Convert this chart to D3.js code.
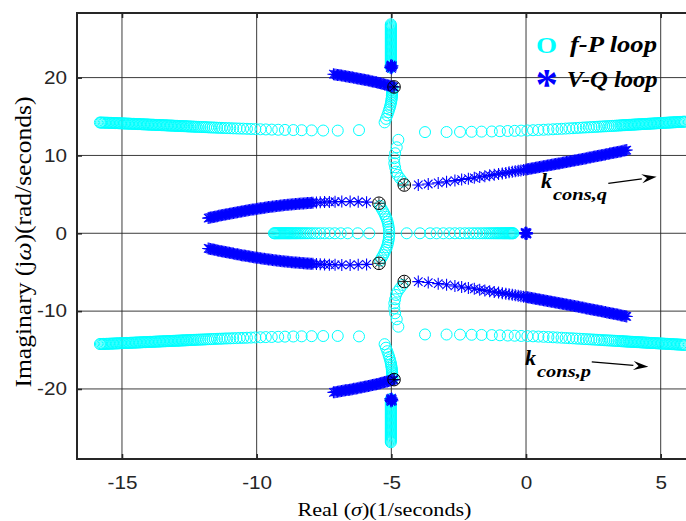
<!DOCTYPE html>
<html>
<head>
<meta charset="utf-8">
<script src="https://cdn.jsdelivr.net/npm/d3@7"></script>
<style>
  html, body { margin: 0; padding: 0; background: #fff; }
  svg { display: block; }
</style>
</head>
<body>
<svg id="chart" width="686" height="521"></svg>
<script>
// Closed-loop pole trajectories, each point is [real, imaginary].

// ---- f-P loop branches ----
const fpUpperLeft = [[-6.20,13.25],[-6.99,13.19],[-7.53,13.20],[-7.96,13.22],[-8.33,13.24],[-8.64,13.26],[-8.95,13.28],[-9.20,13.30],[-9.44,13.32],[-9.66,13.34],[-9.86,13.36],[-10.05,13.38],
[-10.21,13.40],[-10.36,13.42],[-10.50,13.44],[-10.63,13.45],[-10.75,13.47],[-10.87,13.48],[-10.98,13.50],[-11.09,13.51],[-11.19,13.52],[-11.29,13.54],[-11.38,13.55],[-11.47,13.56],[-11.56,13.58],[-11.64,13.59],[-11.72,13.60],[-11.80,13.61],[-11.88,13.63],[-11.95,13.64],[-12.02,13.65],[-12.09,13.66],[-12.16,13.67],[-12.23,13.68],[-12.29,13.69],[-12.35,13.70],[-12.41,13.71],[-12.47,13.72],[-12.53,13.73],
[-12.58,13.74],[-12.63,13.75],[-12.68,13.76],[-12.73,13.76],[-12.78,13.77],[-12.83,13.78],[-12.88,13.79],[-12.93,13.80],[-12.98,13.80],[-13.03,13.81],[-13.08,13.82],[-13.13,13.83],[-13.18,13.84],[-13.23,13.84],[-13.28,13.85],[-13.33,13.86],[-13.38,13.87],[-13.43,13.88],[-13.48,13.88],[-13.53,13.89],[-13.58,13.90],[-13.63,13.91],[-13.68,13.91],[-13.73,13.92],[-13.78,13.93],[-13.83,13.94],[-13.88,13.95],[-13.93,13.95],[-13.98,13.96],[-14.03,13.97],[-14.08,13.98],[-14.13,13.99],[-14.18,13.99],[-14.23,14.00],[-14.28,14.01],[-14.33,14.02],[-14.38,14.03],[-14.43,14.03],[-14.48,14.04],[-14.53,14.05],[-14.58,14.06],[-14.63,14.06],[-14.68,14.07],[-14.73,14.08],[-14.78,14.09],[-14.83,14.09],[-14.88,14.10],[-14.93,14.11],[-14.98,14.12],[-15.03,14.12],[-15.08,14.13],[-15.13,14.14],[-15.18,14.15],[-15.23,14.15],[-15.28,14.16],[-15.33,14.17],[-15.38,14.18],[-15.43,14.18],[-15.48,14.19],[-15.53,14.20],[-15.58,14.20],[-15.63,14.21],[-15.68,14.21],[-15.73,14.22],[-15.78,14.22],[-15.82,14.23]];
const fpLowerLeft = [[-6.20,-13.25],[-6.99,-13.19],[-7.53,-13.20],[-7.96,-13.22],[-8.33,-13.24],[-8.64,-13.26],[-8.95,-13.28],[-9.20,-13.30],[-9.44,-13.32],[-9.66,-13.34],[-9.86,-13.36],[-10.05,-13.38],
[-10.21,-13.40],[-10.36,-13.42],[-10.50,-13.44],[-10.63,-13.45],[-10.75,-13.47],[-10.87,-13.48],[-10.98,-13.50],[-11.09,-13.51],[-11.19,-13.52],[-11.29,-13.54],[-11.38,-13.55],[-11.47,-13.56],[-11.56,-13.58],[-11.64,-13.59],[-11.72,-13.60],[-11.80,-13.61],[-11.88,-13.63],[-11.95,-13.64],[-12.02,-13.65],[-12.09,-13.66],[-12.16,-13.67],[-12.23,-13.68],[-12.29,-13.69],[-12.35,-13.70],[-12.41,-13.71],[-12.47,-13.72],[-12.53,-13.73],
[-12.58,-13.74],[-12.63,-13.75],[-12.68,-13.76],[-12.73,-13.76],[-12.78,-13.77],[-12.83,-13.78],[-12.88,-13.79],[-12.93,-13.80],[-12.98,-13.80],[-13.03,-13.81],[-13.08,-13.82],[-13.13,-13.83],[-13.18,-13.84],[-13.23,-13.84],[-13.28,-13.85],[-13.33,-13.86],[-13.38,-13.87],[-13.43,-13.88],[-13.48,-13.88],[-13.53,-13.89],[-13.58,-13.90],[-13.63,-13.91],[-13.68,-13.91],[-13.73,-13.92],[-13.78,-13.93],[-13.83,-13.94],[-13.88,-13.95],[-13.93,-13.95],[-13.98,-13.96],[-14.03,-13.97],[-14.08,-13.98],[-14.13,-13.99],[-14.18,-13.99],[-14.23,-14.00],[-14.28,-14.01],[-14.33,-14.02],[-14.38,-14.03],[-14.43,-14.03],[-14.48,-14.04],[-14.53,-14.05],[-14.58,-14.06],[-14.63,-14.06],[-14.68,-14.07],[-14.73,-14.08],[-14.78,-14.09],[-14.83,-14.09],[-14.88,-14.10],[-14.93,-14.11],[-14.98,-14.12],[-15.03,-14.12],[-15.08,-14.13],[-15.13,-14.14],[-15.18,-14.15],[-15.23,-14.15],[-15.28,-14.16],[-15.33,-14.17],[-15.38,-14.18],[-15.43,-14.18],[-15.48,-14.19],[-15.53,-14.20],[-15.58,-14.20],[-15.63,-14.21],[-15.68,-14.21],[-15.73,-14.22],[-15.78,-14.22],[-15.82,-14.23]];
const fpUpperRight = [[-3.75,13.00],[-2.95,13.01],[-2.45,13.02],[-2.02,13.04],[-1.65,13.06],[-1.27,13.08],[-0.97,13.11],[-0.68,13.14],[-0.42,13.16],[-0.18,13.19],[0.05,13.21],[0.26,13.24],[0.46,13.27],[0.65,13.30],[0.83,13.33],[1.00,13.36],[1.16,13.39],[1.32,13.42],[1.47,13.45],[1.61,13.48],[1.74,13.50],[1.87,13.53],[1.99,13.55],[2.11,13.58],[2.22,13.60],[2.33,13.62],[2.43,13.64],[2.53,13.66],[2.63,13.68],[2.72,13.70],[2.81,13.72],[2.90,13.74],[2.98,13.75],[3.06,13.77],[3.14,13.78],[3.22,13.80],[3.29,13.81],[3.36,13.83],[3.43,13.84],[3.50,13.86],
[3.55,13.87],[3.60,13.88],[3.65,13.89],[3.70,13.90],[3.75,13.91],[3.80,13.92],[3.85,13.93],[3.90,13.94],[3.95,13.95],[4.00,13.96],[4.05,13.97],[4.10,13.98],[4.15,13.99],[4.20,14.00],[4.25,14.01],[4.30,14.02],[4.35,14.03],[4.40,14.04],[4.45,14.05],[4.50,14.06],[4.55,14.07],[4.60,14.08],[4.65,14.09],[4.70,14.10],[4.75,14.11],[4.80,14.12],[4.85,14.13],[4.90,14.14],[4.95,14.15],[5.00,14.16],[5.05,14.17],[5.10,14.18],[5.15,14.19],[5.20,14.20],[5.25,14.21],[5.30,14.22],[5.35,14.23],[5.40,14.24],[5.45,14.25],[5.50,14.26],[5.55,14.27],[5.60,14.28],[5.65,14.29],[5.70,14.30],[5.75,14.31],[5.80,14.32],[5.85,14.33],[5.90,14.34]];
const fpLowerRight = [[-3.75,-13.00],[-2.95,-13.01],[-2.45,-13.02],[-2.02,-13.04],[-1.65,-13.06],[-1.27,-13.08],[-0.97,-13.11],[-0.68,-13.14],[-0.42,-13.16],[-0.18,-13.19],[0.05,-13.21],[0.26,-13.24],[0.46,-13.27],[0.65,-13.30],[0.83,-13.33],[1.00,-13.36],[1.16,-13.39],[1.32,-13.42],[1.47,-13.45],[1.61,-13.48],[1.74,-13.50],[1.87,-13.53],[1.99,-13.55],[2.11,-13.58],[2.22,-13.60],[2.33,-13.62],[2.43,-13.64],[2.53,-13.66],[2.63,-13.68],[2.72,-13.70],[2.81,-13.72],[2.90,-13.74],[2.98,-13.75],[3.06,-13.77],[3.14,-13.78],[3.22,-13.80],[3.29,-13.81],[3.36,-13.83],[3.43,-13.84],[3.50,-13.86],
[3.55,-13.87],[3.60,-13.88],[3.65,-13.89],[3.70,-13.90],[3.75,-13.91],[3.80,-13.92],[3.85,-13.93],[3.90,-13.94],[3.95,-13.95],[4.00,-13.96],[4.05,-13.97],[4.10,-13.98],[4.15,-13.99],[4.20,-14.00],[4.25,-14.01],[4.30,-14.02],[4.35,-14.03],[4.40,-14.04],[4.45,-14.05],[4.50,-14.06],[4.55,-14.07],[4.60,-14.08],[4.65,-14.09],[4.70,-14.10],[4.75,-14.11],[4.80,-14.12],[4.85,-14.13],[4.90,-14.14],[4.95,-14.15],[5.00,-14.16],[5.05,-14.17],[5.10,-14.18],[5.15,-14.19],[5.20,-14.20],[5.25,-14.21],[5.30,-14.22],[5.35,-14.23],[5.40,-14.24],[5.45,-14.25],[5.50,-14.26],[5.55,-14.27],[5.60,-14.28],[5.65,-14.29],[5.70,-14.30],[5.75,-14.31],[5.80,-14.32],[5.85,-14.33],[5.90,-14.34]];
const fpUpperColumn = [[-5.02,21.30],[-5.02,21.45],[-5.02,21.60],[-5.02,21.75],[-5.02,21.90],[-5.02,22.05],[-5.02,22.20],[-5.02,22.35],[-5.02,22.50],[-5.02,22.65],[-5.02,22.80],[-5.02,22.95],[-5.02,23.10],[-5.02,23.25],[-5.02,23.40],[-5.02,23.55],[-5.02,23.70],[-5.02,23.85],[-5.02,24.00],[-5.02,24.15],[-5.02,24.30],[-5.02,24.45],[-5.02,24.60],[-5.02,24.75],[-5.02,24.90],[-5.02,25.05],[-5.02,25.20],[-5.02,25.35],[-5.02,25.50],[-5.02,25.65],[-5.02,25.80],[-5.02,25.95],[-5.02,26.10],[-5.02,26.25],[-5.02,26.40],[-5.02,26.55],[-5.02,26.70],[-5.02,26.85]];
const fpLowerColumn = [[-5.02,-21.30],[-5.02,-21.45],[-5.02,-21.60],[-5.02,-21.75],[-5.02,-21.90],[-5.02,-22.05],[-5.02,-22.20],[-5.02,-22.35],[-5.02,-22.50],[-5.02,-22.65],[-5.02,-22.80],[-5.02,-22.95],[-5.02,-23.10],[-5.02,-23.25],[-5.02,-23.40],[-5.02,-23.55],[-5.02,-23.70],[-5.02,-23.85],[-5.02,-24.00],[-5.02,-24.15],[-5.02,-24.30],[-5.02,-24.45],[-5.02,-24.60],[-5.02,-24.75],[-5.02,-24.90],[-5.02,-25.05],[-5.02,-25.20],[-5.02,-25.35],[-5.02,-25.50],[-5.02,-25.65],[-5.02,-25.80],[-5.02,-25.95],[-5.02,-26.10],[-5.02,-26.25],[-5.02,-26.40],[-5.02,-26.55],[-5.02,-26.70],[-5.02,-26.85]];
const fpUpperString = [[-4.96,18.70],[-4.96,18.50],[-4.96,18.30],[-4.97,18.10],[-4.97,17.90],[-4.98,17.70],[-4.98,17.50],[-4.99,17.28],[-5.00,17.05],[-5.01,16.80],[-5.03,16.52],[-5.05,16.22],[-5.08,15.90],[-5.11,15.55],[-5.15,15.15],[-5.20,14.70],[-5.25,14.25]];
const fpLowerString = [[-4.96,-18.70],[-4.96,-18.50],[-4.96,-18.30],[-4.97,-18.10],[-4.97,-17.90],[-4.98,-17.70],[-4.98,-17.50],[-4.99,-17.28],[-5.00,-17.05],[-5.01,-16.80],[-5.03,-16.52],[-5.05,-16.22],[-5.08,-15.90],[-5.11,-15.55],[-5.15,-15.15],[-5.20,-14.70],[-5.25,-14.25]];
const fpUpperHook = [[-4.58,6.64],[-4.68,7.07],[-4.77,7.50],[-4.83,7.92],[-4.86,8.48],[-4.89,9.00],[-4.89,9.64],[-4.86,10.28],[-4.80,11.05],[-4.74,12.00]];
const fpLowerHook = [[-4.58,-6.64],[-4.68,-7.07],[-4.77,-7.50],[-4.83,-7.92],[-4.86,-8.48],[-4.89,-9.00],[-4.89,-9.64],[-4.86,-10.28],[-4.80,-11.05],[-4.74,-12.00]];
const fpUpperArc = [[-5.42,3.50],[-5.36,3.15],[-5.30,2.80],[-5.25,2.45],[-5.21,2.12],[-5.17,1.80],[-5.14,1.48],[-5.12,1.16],[-5.10,0.84],[-5.09,0.52],[-5.08,0.22]];
const fpLowerArc = [[-5.42,-3.50],[-5.36,-3.15],[-5.30,-2.80],[-5.25,-2.45],[-5.21,-2.12],[-5.17,-1.80],[-5.14,-1.48],[-5.12,-1.16],[-5.10,-0.84],[-5.09,-0.52],[-5.08,-0.22]];
const fpRealLeft = [[-5.82,0],[-6.25,0],[-6.62,0],[-6.88,0],[-7.10,0],[-7.30,0],[-7.48,0],[-7.64,0],[-7.78,0],[-7.90,0],[-8.00,0],[-8.09,0],[-8.17,0],[-8.24,0],[-8.31,0],[-8.37,0],[-8.43,0],[-8.49,0],[-8.54,0],[-8.59,0],[-8.64,0],[-8.69,0],[-8.74,0],[-8.78,0],[-8.82,0],[-8.86,0],[-8.90,0],[-8.94,0],[-8.98,0],[-9.02,0],[-9.06,0],[-9.10,0],[-9.14,0],[-9.18,0],[-9.22,0],[-9.26,0],[-9.30,0],[-9.33,0],[-9.36,0]];
const fpRealRight = [[-4.43,0],[-3.94,0],[-3.56,0],[-3.32,0],[-3.07,0],[-2.84,0],[-2.64,0],[-2.45,0],[-2.27,0],[-2.11,0],[-1.97,0],[-1.84,0],[-1.72,0],[-1.61,0],[-1.51,0],[-1.42,0],[-1.34,0],[-1.27,0],[-1.20,0],[-1.14,0],[-1.08,0],[-1.03,0],[-0.98,0],[-0.93,0],[-0.88,0],[-0.84,0],[-0.80,0],[-0.76,0],[-0.72,0],[-0.68,0],[-0.64,0],[-0.61,0],[-0.58,0],[-0.55,0],[-0.52,0],[-0.49,0],[-0.47,0]];

// ---- V-Q loop branches ----
const vqUpperCluster = [[-5.00,21.40],[-5.04,21.28],[-4.96,21.52],[-5.01,21.62],[-4.99,21.18],[-5.03,21.48],[-4.97,21.34]];
const vqLowerCluster = [[-5.00,-21.40],[-5.04,-21.28],[-4.96,-21.52],[-5.01,-21.62],[-4.99,-21.18],[-5.03,-21.48],[-4.97,-21.34]];
const vqUpperTop = [[-4.90,18.80],[-4.95,18.85],[-5.00,18.89],[-5.05,18.94],[-5.10,18.98],[-5.15,19.03],[-5.20,19.07],[-5.25,19.12],[-5.30,19.17],[-5.35,19.21],[-5.40,19.26],[-5.45,19.30],[-5.50,19.35],[-5.55,19.39],[-5.60,19.43],[-5.65,19.46],[-5.70,19.50],[-5.75,19.54],[-5.80,19.58],[-5.85,19.62],[-5.90,19.65],[-5.95,19.69],[-6.00,19.73],[-6.05,19.76],[-6.10,19.80],[-6.15,19.83],[-6.20,19.86],[-6.25,19.90],[-6.30,19.93],[-6.35,19.96],[-6.40,19.99],[-6.45,20.03],[-6.50,20.06],[-6.55,20.09],[-6.60,20.12],[-6.65,20.15],[-6.70,20.18],[-6.75,20.21],[-6.80,20.24],[-6.85,20.26],[-6.90,20.29],[-6.95,20.32],[-7.00,20.35],[-7.05,20.38],[-7.10,20.41],[-7.15,20.44]];
const vqLowerTop = [[-4.90,-18.80],[-4.95,-18.85],[-5.00,-18.89],[-5.05,-18.94],[-5.10,-18.98],[-5.15,-19.03],[-5.20,-19.07],[-5.25,-19.12],[-5.30,-19.17],[-5.35,-19.21],[-5.40,-19.26],[-5.45,-19.30],[-5.50,-19.35],[-5.55,-19.39],[-5.60,-19.43],[-5.65,-19.46],[-5.70,-19.50],[-5.75,-19.54],[-5.80,-19.58],[-5.85,-19.62],[-5.90,-19.65],[-5.95,-19.69],[-6.00,-19.73],[-6.05,-19.76],[-6.10,-19.80],[-6.15,-19.83],[-6.20,-19.86],[-6.25,-19.90],[-6.30,-19.93],[-6.35,-19.96],[-6.40,-19.99],[-6.45,-20.03],[-6.50,-20.06],[-6.55,-20.09],[-6.60,-20.12],[-6.65,-20.15],[-6.70,-20.18],[-6.75,-20.21],[-6.80,-20.24],[-6.85,-20.26],[-6.90,-20.29],[-6.95,-20.32],[-7.00,-20.35],[-7.05,-20.38],[-7.10,-20.41],[-7.15,-20.44]];
const vqUpperLeft = [[-5.92,4.00],[-6.23,4.05],[-6.53,4.07],[-6.84,4.07],[-7.09,4.05],[-7.30,4.03],[-7.48,4.01],[-7.64,3.98],[-7.78,3.96],[-7.91,3.93],
[-7.96,3.92],[-8.01,3.90],[-8.06,3.89],[-8.11,3.88],[-8.16,3.87],[-8.21,3.85],[-8.26,3.84],[-8.31,3.83],[-8.36,3.81],[-8.41,3.80],[-8.46,3.79],[-8.51,3.77],[-8.56,3.75],[-8.61,3.74],[-8.66,3.72],[-8.71,3.71],[-8.76,3.69],[-8.81,3.67],[-8.86,3.66],[-8.91,3.64],[-8.96,3.62],[-9.01,3.60],[-9.06,3.58],[-9.11,3.56],[-9.16,3.54],[-9.21,3.52],[-9.26,3.50],[-9.31,3.47],[-9.36,3.45],[-9.41,3.43],[-9.46,3.41],[-9.51,3.38],[-9.56,3.36],[-9.61,3.33],[-9.66,3.31],[-9.71,3.28],[-9.76,3.26],[-9.81,3.23],[-9.86,3.21],[-9.91,3.18],[-9.96,3.16],[-10.01,3.13],[-10.06,3.10],[-10.11,3.07],[-10.16,3.05],[-10.21,3.02],[-10.26,2.99],[-10.31,2.96],[-10.36,2.93],[-10.41,2.90],[-10.46,2.87],[-10.51,2.84],[-10.56,2.81],[-10.61,2.78],[-10.66,2.74],[-10.71,2.71],[-10.76,2.68],[-10.81,2.65],[-10.86,2.61],[-10.91,2.58],[-10.96,2.55],[-11.01,2.51],[-11.06,2.48],[-11.11,2.45],[-11.16,2.41],[-11.21,2.38],[-11.26,2.34],[-11.31,2.31],[-11.36,2.27],[-11.41,2.24],[-11.46,2.20],[-11.51,2.16],[-11.56,2.13],[-11.61,2.09],[-11.66,2.05],[-11.71,2.02],[-11.76,1.98],[-11.80,1.95]];
const vqLowerLeft = [[-5.92,-4.00],[-6.23,-4.05],[-6.53,-4.07],[-6.84,-4.07],[-7.09,-4.05],[-7.30,-4.03],[-7.48,-4.01],[-7.64,-3.98],[-7.78,-3.96],[-7.91,-3.93],
[-7.96,-3.92],[-8.01,-3.90],[-8.06,-3.89],[-8.11,-3.88],[-8.16,-3.87],[-8.21,-3.85],[-8.26,-3.84],[-8.31,-3.83],[-8.36,-3.81],[-8.41,-3.80],[-8.46,-3.79],[-8.51,-3.77],[-8.56,-3.75],[-8.61,-3.74],[-8.66,-3.72],[-8.71,-3.71],[-8.76,-3.69],[-8.81,-3.67],[-8.86,-3.66],[-8.91,-3.64],[-8.96,-3.62],[-9.01,-3.60],[-9.06,-3.58],[-9.11,-3.56],[-9.16,-3.54],[-9.21,-3.52],[-9.26,-3.50],[-9.31,-3.47],[-9.36,-3.45],[-9.41,-3.43],[-9.46,-3.41],[-9.51,-3.38],[-9.56,-3.36],[-9.61,-3.33],[-9.66,-3.31],[-9.71,-3.28],[-9.76,-3.26],[-9.81,-3.23],[-9.86,-3.21],[-9.91,-3.18],[-9.96,-3.16],[-10.01,-3.13],[-10.06,-3.10],[-10.11,-3.07],[-10.16,-3.05],[-10.21,-3.02],[-10.26,-2.99],[-10.31,-2.96],[-10.36,-2.93],[-10.41,-2.90],[-10.46,-2.87],[-10.51,-2.84],[-10.56,-2.81],[-10.61,-2.78],[-10.66,-2.74],[-10.71,-2.71],[-10.76,-2.68],[-10.81,-2.65],[-10.86,-2.61],[-10.91,-2.58],[-10.96,-2.55],[-11.01,-2.51],[-11.06,-2.48],[-11.11,-2.45],[-11.16,-2.41],[-11.21,-2.38],[-11.26,-2.34],[-11.31,-2.31],[-11.36,-2.27],[-11.41,-2.24],[-11.46,-2.20],[-11.51,-2.16],[-11.56,-2.13],[-11.61,-2.09],[-11.66,-2.05],[-11.71,-2.02],[-11.76,-1.98],[-11.80,-1.95]];
const vqUpperRight = [[-4.00,6.21],[-3.63,6.33],[-3.26,6.47],[-2.95,6.62],[-2.64,6.77],[-2.39,6.90],[-2.14,7.02],[-1.92,7.13],[-1.72,7.24],[-1.53,7.34],[-1.35,7.44],[-1.18,7.53],[-1.02,7.62],[-0.88,7.69],[-0.75,7.76],[-0.63,7.83],[-0.51,7.90],[-0.40,7.96],[-0.29,8.02],[-0.19,8.08],[-0.09,8.14],[0.00,8.20],
[0.05,8.23],[0.10,8.26],[0.15,8.29],[0.20,8.32],[0.25,8.35],[0.30,8.38],[0.35,8.41],[0.40,8.44],[0.45,8.48],[0.50,8.51],[0.55,8.54],[0.60,8.57],[0.65,8.60],[0.70,8.63],[0.75,8.66],[0.80,8.70],[0.85,8.73],[0.90,8.76],[0.95,8.79],[1.00,8.82],[1.05,8.86],[1.10,8.89],[1.15,8.92],[1.20,8.95],[1.25,8.98],[1.30,9.02],[1.35,9.05],[1.40,9.08],[1.45,9.12],[1.50,9.15],[1.55,9.18],[1.60,9.22],[1.65,9.25],[1.70,9.28],[1.75,9.32],[1.80,9.35],[1.85,9.38],[1.90,9.42],[1.95,9.45],[2.00,9.48],[2.05,9.52],[2.10,9.55],[2.15,9.58],[2.20,9.62],[2.25,9.65],[2.30,9.69],[2.35,9.72],[2.40,9.75],[2.45,9.79],[2.50,9.82],[2.55,9.86],[2.60,9.89],[2.65,9.93],[2.70,9.96],[2.75,9.99],[2.80,10.03],[2.85,10.06],[2.90,10.10],[2.95,10.13],[3.00,10.17],[3.05,10.20],[3.10,10.24],[3.15,10.27],[3.20,10.31],[3.25,10.34],[3.30,10.38],[3.35,10.41],[3.40,10.45],[3.45,10.48],[3.50,10.52],[3.55,10.55],[3.60,10.59],[3.65,10.62],[3.70,10.66],[3.74,10.69]];
const vqLowerRight = [[-4.00,-6.21],[-3.63,-6.33],[-3.26,-6.47],[-2.95,-6.62],[-2.64,-6.77],[-2.39,-6.90],[-2.14,-7.02],[-1.92,-7.13],[-1.72,-7.24],[-1.53,-7.34],[-1.35,-7.44],[-1.18,-7.53],[-1.02,-7.62],[-0.88,-7.69],[-0.75,-7.76],[-0.63,-7.83],[-0.51,-7.90],[-0.40,-7.96],[-0.29,-8.02],[-0.19,-8.08],[-0.09,-8.14],[0.00,-8.20],
[0.05,-8.23],[0.10,-8.26],[0.15,-8.29],[0.20,-8.32],[0.25,-8.35],[0.30,-8.38],[0.35,-8.41],[0.40,-8.44],[0.45,-8.48],[0.50,-8.51],[0.55,-8.54],[0.60,-8.57],[0.65,-8.60],[0.70,-8.63],[0.75,-8.66],[0.80,-8.70],[0.85,-8.73],[0.90,-8.76],[0.95,-8.79],[1.00,-8.82],[1.05,-8.86],[1.10,-8.89],[1.15,-8.92],[1.20,-8.95],[1.25,-8.98],[1.30,-9.02],[1.35,-9.05],[1.40,-9.08],[1.45,-9.12],[1.50,-9.15],[1.55,-9.18],[1.60,-9.22],[1.65,-9.25],[1.70,-9.28],[1.75,-9.32],[1.80,-9.35],[1.85,-9.38],[1.90,-9.42],[1.95,-9.45],[2.00,-9.48],[2.05,-9.52],[2.10,-9.55],[2.15,-9.58],[2.20,-9.62],[2.25,-9.65],[2.30,-9.69],[2.35,-9.72],[2.40,-9.75],[2.45,-9.79],[2.50,-9.82],[2.55,-9.86],[2.60,-9.89],[2.65,-9.93],[2.70,-9.96],[2.75,-9.99],[2.80,-10.03],[2.85,-10.06],[2.90,-10.10],[2.95,-10.13],[3.00,-10.17],[3.05,-10.20],[3.10,-10.24],[3.15,-10.27],[3.20,-10.31],[3.25,-10.34],[3.30,-10.38],[3.35,-10.41],[3.40,-10.45],[3.45,-10.48],[3.50,-10.52],[3.55,-10.55],[3.60,-10.59],[3.65,-10.62],[3.70,-10.66],[3.74,-10.69]];
const vqOrigin = [[0.00,0.00],[0.03,0.08],[-0.03,-0.08],[0.04,-0.05],[-0.04,0.05],[0.02,-0.10],[-0.02,0.10]];

// Starting poles, ringed in black
const startPoles = [[-5.46,3.86],[-5.46,-3.86],[-4.52,6.20],[-4.52,-6.20],[-4.90,18.80],[-4.90,-18.80]];

// ---- axes ----
const xLimits = [-16.67, 6.6];
const yLimits = [-29.0, 28.3];
const xTicks = [-15, -10, -5, 0, 5];
const yTicks = [-20, -10, 0, 10, 20];

// annotation arrows, in data units
const kqArrow = [[3.055, 6.41], [4.85, 7.26]];
const kpArrow = [[2.44, -16.51], [4.54, -17.15]];

const fpBranches = [fpUpperLeft, fpLowerLeft, fpUpperRight, fpLowerRight, fpUpperColumn, fpLowerColumn,
  fpUpperString, fpLowerString, fpUpperHook, fpLowerHook, fpUpperArc, fpLowerArc, fpRealLeft, fpRealRight];
const vqBranches = [vqUpperCluster, vqLowerCluster, vqUpperTop, vqLowerTop, vqUpperLeft, vqLowerLeft,
  vqUpperRight, vqLowerRight, vqOrigin];

const CYAN = "#00FFFF", BLUE = "#0000FF", AXIS = "#262626";
const SERIF = "'Liberation Serif', 'Times New Roman', serif";
const SANS = "'Liberation Sans', Arial, sans-serif";

const svg = d3.select("#chart");
svg.append("rect").attr("width", 686).attr("height", 521).attr("fill", "#fff");

const x = d3.scaleLinear().domain(xLimits).range([77, 703.8]);
const y = d3.scaleLinear().domain(yLimits).range([459, 13]);
const [px0, px1] = x.range();
const [py0, py1] = y.range();

svg.append("defs").append("clipPath").attr("id", "plotArea")
  .append("rect").attr("x", px0).attr("y", py1).attr("width", px1 - px0).attr("height", py0 - py1);

// grid
const grid = svg.append("g");
grid.selectAll("line.gx").data(xTicks).join("line")
  .attr("x1", d => x(d)).attr("x2", d => x(d)).attr("y1", py1).attr("y2", py0)
  .attr("stroke", AXIS).attr("stroke-width", 1).attr("stroke-opacity", 0.9);
grid.selectAll("line.gy").data(yTicks).join("line")
  .attr("y1", d => y(d)).attr("y2", d => y(d)).attr("x1", px0).attr("x2", px1)
  .attr("stroke", AXIS).attr("stroke-width", 1).attr("stroke-opacity", 0.9);

// markers
const plot = svg.append("g").attr("clip-path", "url(#plotArea)");

function starPath(r) {
  const a = r * Math.SQRT1_2;
  return `M${-r},0H${r}M0,${-r}V${r}M${-a},${-a}L${a},${a}M${-a},${a}L${a},${-a}`;
}

plot.append("g").selectAll("circle").data(fpBranches.flat()).join("circle")
  .attr("cx", d => x(d[0])).attr("cy", d => y(d[1])).attr("r", 5.5)
  .attr("fill", "none").attr("stroke", CYAN).attr("stroke-width", 1);

plot.append("g").selectAll("path").data(vqBranches.flat()).join("path")
  .attr("transform", d => `translate(${x(d[0])},${y(d[1])})`)
  .attr("d", starPath(6.0)).attr("fill", "none").attr("stroke", BLUE).attr("stroke-width", 1.1);

const sp = plot.append("g").selectAll("g").data(startPoles).join("g")
  .attr("transform", d => `translate(${x(d[0])},${y(d[1])})`);
sp.append("path").attr("d", starPath(5.8)).attr("fill", "none").attr("stroke", "#000").attr("stroke-width", 0.8);
sp.append("circle").attr("r", 6.3).attr("fill", "none").attr("stroke", "#000").attr("stroke-width", 1);

// axes: inward ticks and frame
const xAxis = d3.axisBottom(x).tickValues(xTicks).tickFormat(d => String(d))
  .tickSizeInner(-5).tickSizeOuter(0).tickPadding(17.7);
const gx = svg.append("g").attr("transform", `translate(0,${py0})`).call(xAxis);
gx.select(".domain").remove();
gx.selectAll(".tick line").attr("stroke", AXIS).attr("stroke-width", 1.6);
gx.selectAll(".tick text").attr("font-family", SANS).attr("font-size", 18).attr("fill", AXIS)
  .attr("transform", "scale(1.15,1)");

const xTop = d3.axisTop(x).tickValues(xTicks).tickFormat("").tickSizeInner(-5).tickSizeOuter(0);
const gt = svg.append("g").attr("transform", `translate(0,${py1})`).call(xTop);
gt.select(".domain").remove();
gt.selectAll(".tick line").attr("stroke", AXIS).attr("stroke-width", 1.6);

const yAxis = d3.axisLeft(y).tickValues(yTicks).tickFormat(d => String(d))
  .tickSizeInner(-5).tickSizeOuter(0).tickPadding(8.7);
const gy = svg.append("g").attr("transform", `translate(${px0},0)`).call(yAxis);
gy.select(".domain").remove();
gy.selectAll(".tick line").attr("stroke", AXIS).attr("stroke-width", 1.6);
gy.selectAll(".tick text").attr("font-family", SANS).attr("font-size", 18).attr("fill", AXIS)
  .attr("transform", "scale(1.15,1)");

svg.append("path")
  .attr("d", `M${px1},${py1}H${px0}V${py0}H${px1}`)
  .attr("fill", "none").attr("stroke", AXIS).attr("stroke-width", 2);

// axis labels
const yl = svg.append("text")
  .attr("transform", "translate(31,242) rotate(-90)")
  .attr("text-anchor", "middle").attr("font-family", SERIF).attr("font-size", 23)
  .attr("fill", "#000").attr("textLength", 291).attr("lengthAdjust", "spacingAndGlyphs");
yl.append("tspan").text("Imaginary (j");
yl.append("tspan").attr("font-style", "italic").text("ω");
yl.append("tspan").text(")(rad/seconds)");

const xl = svg.append("text")
  .attr("transform", "translate(384.5,516)")
  .attr("text-anchor", "middle").attr("font-family", SERIF).attr("font-size", 19)
  .attr("fill", "#000").attr("textLength", 174).attr("lengthAdjust", "spacingAndGlyphs");
xl.append("tspan").text("Real (");
xl.append("tspan").attr("font-style", "italic").text("σ");
xl.append("tspan").text(")(1/seconds)");

// legend
const legend = svg.append("g").attr("font-family", SERIF).attr("font-weight", "bold");
legend.append("text").attr("x", 536).attr("y", 53).attr("font-size", 24).attr("fill", CYAN)
  .attr("textLength", 21).attr("lengthAdjust", "spacingAndGlyphs").text("O");
legend.append("text").attr("x", 570).attr("y", 52).attr("font-size", 22.5).attr("font-style", "italic")
  .attr("fill", "#000").attr("textLength", 87).attr("lengthAdjust", "spacingAndGlyphs").text("f-P loop");
legend.append("text").attr("x", 535.5).attr("y", 99).attr("font-size", 45).attr("fill", BLUE).text("*");
legend.append("text").attr("x", 566.7).attr("y", 87).attr("font-size", 22.5).attr("font-style", "italic")
  .attr("fill", "#000").attr("textLength", 91).attr("lengthAdjust", "spacingAndGlyphs").text("V-Q loop");

// gain-direction annotations
function gainLabel(px, py, sub, subLen) {
  const g = svg.append("g").attr("font-family", SERIF).attr("font-weight", "bold")
    .attr("font-style", "italic").attr("fill", "#000");
  g.append("text").attr("x", px).attr("y", py).attr("font-size", 22).text("k");
  g.append("text").attr("x", px + 12).attr("y", py + 12).attr("font-size", 16)
    .attr("textLength", subLen).attr("lengthAdjust", "spacingAndGlyphs").text(sub);
}
gainLabel(541, 188, "cons,q", 54);
gainLabel(525, 365, "cons,p", 54);

function arrow(seg) {
  const [ax, ay] = [x(seg[0][0]), y(seg[0][1])];
  const [bx, by] = [x(seg[1][0]), y(seg[1][1])];
  const ang = Math.atan2(by - ay, bx - ax);
  const hl = 15, hw = 4.5;
  const cx = bx - hl * Math.cos(ang), cy = by - hl * Math.sin(ang);
  svg.append("line").attr("x1", ax).attr("y1", ay).attr("x2", cx).attr("y2", cy)
    .attr("stroke", "#000").attr("stroke-width", 1.2);
  const nx = -Math.sin(ang) * hw, ny = Math.cos(ang) * hw;
  svg.append("path")
    .attr("d", `M${bx},${by}L${cx + nx},${cy + ny}L${cx + 0.35 * hl * Math.cos(ang)},${cy + 0.35 * hl * Math.sin(ang)}L${cx - nx},${cy - ny}Z`)
    .attr("fill", "#000");
}
arrow(kqArrow);
arrow(kpArrow);
</script>
</body>
</html>
